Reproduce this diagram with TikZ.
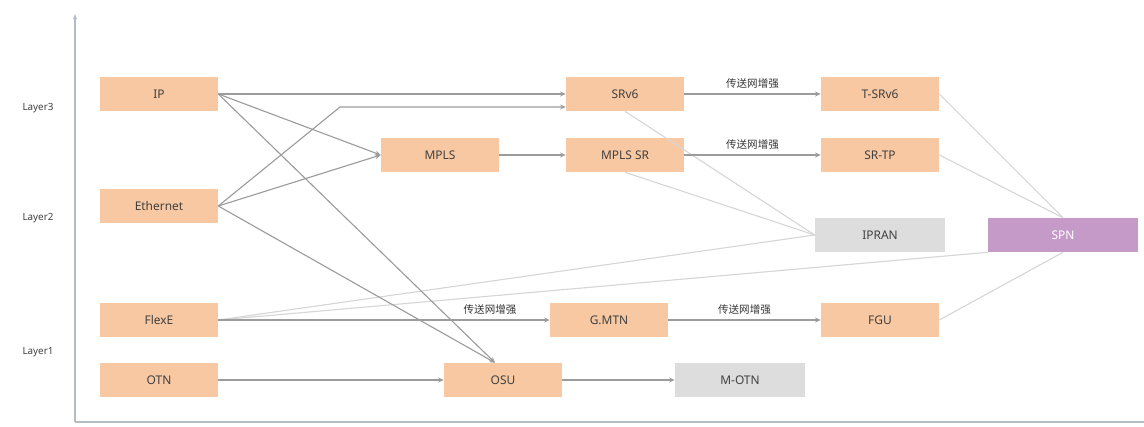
\documentclass[tikz,border=0pt]{standalone}
\usepackage{fontspec}
\setmainfont{Noto Sans}
\newfontfamily\cjk{Noto Sans CJK SC}
\usetikzlibrary{arrows.meta}

\definecolor{peach}{HTML}{F8C8A2}
\definecolor{lightgray}{HTML}{DDDDDD}
\definecolor{spnpurple}{HTML}{C69AC8}
\definecolor{linegray}{HTML}{9C9C9C}
\definecolor{faintgray}{HTML}{D6D6D6}
\definecolor{axisgray}{HTML}{B4BCC4}

\tikzset{
  box/.style={fill=peach,minimum width=2.95cm,minimum height=0.85cm,inner sep=0pt,
    text=black!75,font=\fontsize{8.5}{10}\selectfont},
  graybox/.style={box,fill=lightgray,minimum width=3.25cm},
  spnbox/.style={box,fill=spnpurple,minimum width=3.75cm,text=white},
  link/.style={draw=linegray,line width=0.8pt,-{Stealth[length=4pt,width=3.5pt]}},
  faint/.style={draw=faintgray,line width=0.8pt},
  enh/.style={above,text=black!80,font=\cjk\fontsize{7.5}{9}\selectfont},
  layer/.style={text=black!75,font=\fontsize{7}{9}\selectfont}
}

\begin{document}
\begin{tikzpicture}[x=0.025cm,y=-0.025cm]
\useasboundingbox (0,0) rectangle (1144,427);

% axes
\draw[axisgray,line width=0.8pt,-{Stealth[length=4pt,width=3pt]}] (75,422) -- (75,14);
\draw[axisgray,line width=0.8pt] (75,422) -- (1144,422);
\node[layer] (l3) at (38,108) {Layer3};
\node[layer] (l2) at (38,218) {Layer2};
\node[layer] (l1) at (38,352) {Layer1};

% left column
\node[box] (ip) at (159,94) {IP};
\node[box] (eth) at (159,206) {Ethernet};
\node[box] (flexe) at (159,320) {FlexE};
\node[box] (otn) at (159,380) {OTN};

% middle
\node[box] (mpls) at (440,155) {MPLS};
\node[box] (srv6) at (625,94) {SRv6};
\node[box] (mplssr) at (625,155) {MPLS SR};
\node[box] (gmtn) at (609,320) {G.MTN};
\node[box] (osu) at (503,380) {OSU};
\node[graybox] (motn) at (740,380) {M-OTN};

% right
\node[box] (tsrv6) at (880,94) {T-SRv6};
\node[box] (srtp) at (880,155) {SR-TP};
\node[graybox] (ipran) at (880,235) {IPRAN};
\node[box] (fgu) at (880,320) {FGU};
\node[spnbox] (spn) at (1063,235) {SPN};

% faint links
\draw[faint] (srv6.south) -- (ipran.west);
\draw[faint] (mplssr.south) -- (ipran.west);
\draw[faint] (flexe.east) -- (ipran.west);
\draw[faint] (flexe.east) -- (spn.south west);
\draw[faint] (tsrv6.east) -- (spn.north);
\draw[faint] (srtp.east) -- (spn.north);
\draw[faint] (fgu.east) -- (spn.south);

% links
\coordinate (bend) at (340,107);
\draw[link] (ip.east) -- (srv6.west);
\draw[link] (eth.east) -- (bend) -- (bend -| srv6.west);
\draw[link] (ip.east) -- (mpls.west);
\draw[link] (eth.east) -- (mpls.west);
\draw[link] (ip.east) -- ([xshift=-0.2cm]osu.north);
\draw[link] (eth.east) -- ([xshift=-0.2cm]osu.north);
\draw[link] (mpls) -- (mplssr);
\draw[link] (srv6) -- node[enh] {传送网增强} (tsrv6);
\draw[link] (mplssr) -- node[enh] {传送网增强} (srtp);
\draw[link] (flexe) -- node[enh,pos=0.82] {传送网增强} (gmtn);
\draw[link] (gmtn) -- node[enh] {传送网增强} (fgu);
\draw[link] (otn) -- (osu);
\draw[link] (osu) -- (motn);
\end{tikzpicture}
\end{document}
